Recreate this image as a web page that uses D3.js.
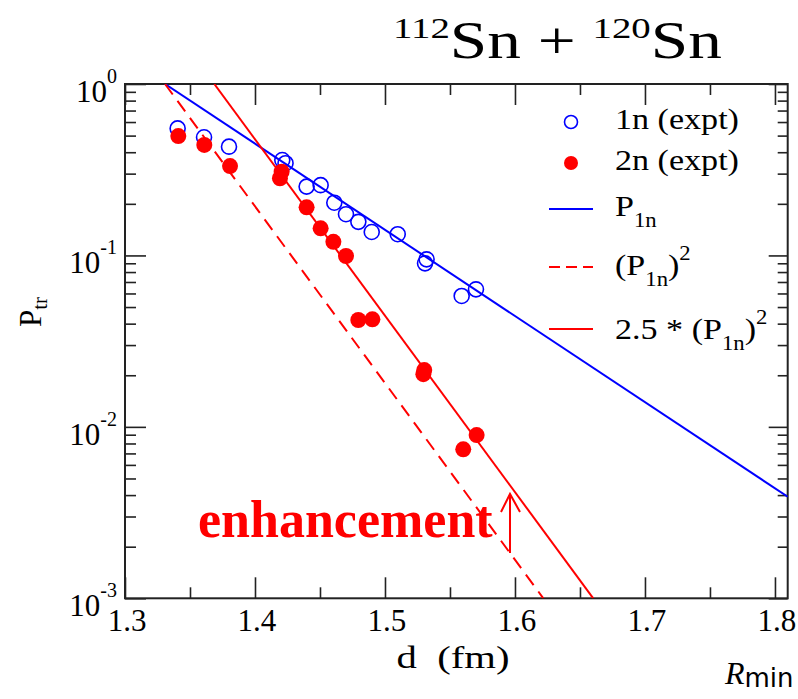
<!DOCTYPE html>
<html>
<head>
<meta charset="utf-8">
<script src="https://cdn.jsdelivr.net/npm/d3@7"></script>
<style>
body { margin: 0; background: #fff; }
</style>
</head>
<body>
<svg id="chart" width="798" height="699"></svg>
<script>
// data
var d1n = [1.3405, 1.3608, 1.380, 1.421, 1.4235, 1.4397, 1.4505, 1.461, 1.470, 1.4795, 1.4898, 1.5098, 1.532, 1.5308, 1.559, 1.570];
var p1n = [0.551, 0.489, 0.431, 0.36, 0.345, 0.252, 0.257, 0.203, 0.174, 0.157, 0.137, 0.133, 0.0949, 0.0899, 0.058, 0.0634];
var d2n = [1.341, 1.361, 1.3808, 1.4205, 1.4192, 1.4397, 1.4505, 1.4603, 1.470, 1.4795, 1.4903, 1.5302, 1.5295, 1.5705, 1.5602];
var p2n = [0.497, 0.441, 0.332, 0.308, 0.282, 0.1907, 0.144, 0.120, 0.0992, 0.0420, 0.0424, 0.02145, 0.0203, 0.00896, 0.0074];
// fit lines (end points)
var lineP1n = [[1.3308, 1.0], [1.8098, 0.00391]];
var lineSq = [[1.3308, 1.0], [1.6218, 0.001]];
var lineSq25 = [[1.3687, 1.0], [1.6602, 0.001]];
var xTicks = [1.3, 1.4, 1.5, 1.6, 1.7, 1.8];
var xMinor = [1.35, 1.45, 1.55, 1.65, 1.75];
var yExp = [0, -1, -2, -3];

var SERIF = "'Liberation Serif', 'Times New Roman', Times, serif";

var svg = d3.select("#chart");
var pL = 125, pR = 787.7, pT = 84, pB = 598.3;

var x = d3.scaleLinear().domain([1.3, 1.8098]).range([pL, pR]);
var y = d3.scaleLog().domain([1e-3, 1]).range([pB, pT]);

var yMinor = [];
yExp.slice(1).forEach(function(e) {
    for (var k = 2; k <= 9; k++) yMinor.push(k * Math.pow(10, e));
});
var yMajor = yExp.map(function(e) { return Math.pow(10, e); });

// text stretched sideways to a given width (the source font runs wide)
function wideText(x0, y0, anchor) {
    var g = svg.append("g").attr("transform", "translate(" + x0 + "," + y0 + ")");
    return g.append("text").attr("text-anchor", anchor || "start")
        .style("font-family", SERIF).attr("xml:space", "preserve");
}
function fitWidth(t, x0, y0, w) {
    var bw = t.node().getBBox().width;
    d3.select(t.node().parentNode)
        .attr("transform", "translate(" + x0 + "," + y0 + ") scale(" + (w / bw) + ",1)");
}

// clip for the curves
svg.append("clipPath").attr("id", "clip")
    .append("rect").attr("x", pL).attr("y", pT)
    .attr("width", pR - pL).attr("height", pB - pT);

function tickStyle(g) {
    g.select(".domain").remove();
    g.selectAll("line").attr("stroke", "#222").attr("stroke-width", 1.6);
    g.selectAll("text").remove();
}

// ticks (inward, on all four sides)
svg.append("g").attr("transform", "translate(0," + pB + ")")
    .call(d3.axisBottom(x).tickValues(xTicks).tickSizeInner(-21).tickSizeOuter(0)).call(tickStyle);
svg.append("g").attr("transform", "translate(0," + pB + ")")
    .call(d3.axisBottom(x).tickValues(xMinor).tickSizeInner(-11).tickSizeOuter(0)).call(tickStyle);
svg.append("g").attr("transform", "translate(0," + pT + ")")
    .call(d3.axisTop(x).tickValues(xTicks).tickSizeInner(-21).tickSizeOuter(0)).call(tickStyle);
svg.append("g").attr("transform", "translate(0," + pT + ")")
    .call(d3.axisTop(x).tickValues(xMinor).tickSizeInner(-11).tickSizeOuter(0)).call(tickStyle);
svg.append("g").attr("transform", "translate(" + pL + ",0)")
    .call(d3.axisLeft(y).tickValues(yMajor).tickSizeInner(-21).tickSizeOuter(0)).call(tickStyle);
svg.append("g").attr("transform", "translate(" + pL + ",0)")
    .call(d3.axisLeft(y).tickValues(yMinor).tickSizeInner(-11).tickSizeOuter(0)).call(tickStyle);
svg.append("g").attr("transform", "translate(" + pR + ",0)")
    .call(d3.axisRight(y).tickValues(yMajor).tickSizeInner(-19).tickSizeOuter(0)).call(tickStyle);
svg.append("g").attr("transform", "translate(" + pR + ",0)")
    .call(d3.axisRight(y).tickValues(yMinor).tickSizeInner(-10).tickSizeOuter(0)).call(tickStyle);

// frame
svg.append("rect").attr("x", pL).attr("y", pT)
    .attr("width", pR - pL).attr("height", pB - pT)
    .attr("fill", "none").attr("stroke", "#222").attr("stroke-width", 2);

// x tick labels
svg.selectAll(".xlab").data(xTicks).enter().append("text")
    .attr("x", function(d) { return x(d) + 2; })
    .attr("y", pB + 33)
    .attr("text-anchor", "middle")
    .style("font-family", SERIF)
    .style("font-size", "31px")
    .text(function(d) { return d.toFixed(1); });

// y tick labels 10^n
var ylab = svg.selectAll(".ylab").data(yExp).enter().append("text")
    .attr("x", pL - 8)
    .attr("y", function(d) { return y(Math.pow(10, d)) + 18; })
    .attr("text-anchor", "end")
    .style("font-family", SERIF)
    .style("font-size", "31px");
ylab.append("tspan").text("10");
ylab.append("tspan").attr("dy", -19).style("font-size", "20px").text(function(d) { return d; });

// axis titles
var xt = wideText(453, 668, "middle").style("font-size", "31px").text("d  (fm)");
fitWidth(xt, 453, 668, 113);
var yt = svg.append("text").attr("transform", "translate(41,312) rotate(-90)")
    .attr("text-anchor", "middle").style("font-family", SERIF).style("font-size", "31px");
yt.append("tspan").text("P");
yt.append("tspan").attr("dy", 6).style("font-size", "21px").text("tr");

// title
var title = wideText(393, 58).style("font-size", "52px");
title.append("tspan").attr("dy", -20).style("font-size", "30px").text("112");
title.append("tspan").attr("dy", 20).text("Sn + ");
title.append("tspan").attr("dy", -20).style("font-size", "30px").text("120");
title.append("tspan").attr("dy", 20).text("Sn");
fitWidth(title, 393, 58, 329);

// R_min corner label
var rmin = svg.append("text").attr("x", 725).attr("y", 684);
rmin.append("tspan").style("font-family", SERIF).style("font-size", "32px")
    .style("font-style", "italic").text("R");
rmin.append("tspan").attr("dy", 3).style("font-size", "26px")
    .style("font-family", "'DejaVu Sans', sans-serif").text("min");

// curves
var line = d3.line().x(function(d) { return x(d[0]); }).y(function(d) { return y(d[1]); });
var curves = svg.append("g").attr("clip-path", "url(#clip)");
curves.append("path").attr("d", line(lineP1n)).attr("fill", "none")
    .attr("stroke", "#0000ff").attr("stroke-width", 2);
curves.append("path").attr("d", line(lineSq)).attr("fill", "none")
    .attr("stroke", "#ff0000").attr("stroke-width", 2).attr("stroke-dasharray", "13,8");
curves.append("path").attr("d", line(lineSq25)).attr("fill", "none")
    .attr("stroke", "#ff0000").attr("stroke-width", 2);

// points
svg.selectAll(".p1n").data(d3.zip(d1n, p1n)).enter().append("circle")
    .attr("cx", function(d) { return x(d[0]); })
    .attr("cy", function(d) { return y(d[1]); })
    .attr("r", 7.5)
    .attr("fill", "none").attr("stroke", "#0000ff").attr("stroke-width", 1.6);
svg.selectAll(".p2n").data(d3.zip(d2n, p2n)).enter().append("circle")
    .attr("cx", function(d) { return x(d[0]); })
    .attr("cy", function(d) { return y(d[1]); })
    .attr("r", 8)
    .attr("fill", "#ff0000");

// legend
var lx = 549, lt = 615;
svg.append("circle").attr("cx", 571).attr("cy", 122).attr("r", 6.5)
    .attr("fill", "none").attr("stroke", "#0000ff").attr("stroke-width", 1.6);
svg.append("circle").attr("cx", 571).attr("cy", 163).attr("r", 7).attr("fill", "#ff0000");
svg.append("line").attr("x1", lx).attr("x2", 593).attr("y1", 209).attr("y2", 209)
    .attr("stroke", "#0000ff").attr("stroke-width", 2);
svg.append("line").attr("x1", lx).attr("x2", 593).attr("y1", 267).attr("y2", 267)
    .attr("stroke", "#ff0000").attr("stroke-width", 2).attr("stroke-dasharray", "11,6");
svg.append("line").attr("x1", lx).attr("x2", 593).attr("y1", 329).attr("y2", 329)
    .attr("stroke", "#ff0000").attr("stroke-width", 2);

var legScale = null;
function legText(yb, parts) {
    var t = wideText(lt, yb).style("font-size", "30px");
    parts.forEach(function(p) {
        var s = t.append("tspan").text(p[0]);
        if (p[1]) s.attr("dy", p[1]);
        if (p[2]) s.style("font-size", p[2]);
    });
    if (legScale === null) legScale = 124 / t.node().getBBox().width;
    d3.select(t.node().parentNode)
        .attr("transform", "translate(" + lt + "," + yb + ") scale(" + legScale + ",1)");
}
legText(129, [["1n (expt)"]]);
legText(170, [["2n (expt)"]]);
legText(216, [["P"], ["1n", 11, "20px"]]);
legText(275, [["(P"], ["1n", 11, "20px"], [")", -11], ["2", -15, "20px"]]);
legText(339, [["2.5 * (P"], ["1n", 11, "20px"], [")", -11], ["2", -15, "20px"]]);

// enhancement annotation
svg.append("text").attr("x", 198).attr("y", 537)
    .style("font-family", SERIF)
    .style("font-size", "52px").style("font-weight", "bold").attr("fill", "#ff0000")
    .text("enhancement");
var ax = 510;
svg.append("path")
    .attr("d", "M" + ax + ",553 L" + ax + ",494 M" + (ax - 9) + ",512 L" + ax + ",494 L" + (ax + 10) + ",512")
    .attr("fill", "none").attr("stroke", "#ff0000").attr("stroke-width", 2);
</script>
</body>
</html>
